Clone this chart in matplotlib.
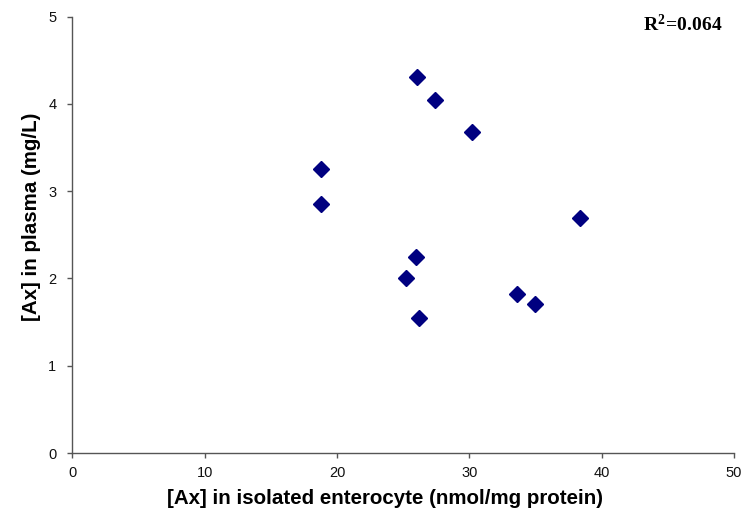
import matplotlib
matplotlib.use("Agg")
import matplotlib.pyplot as plt

# enterocyte concentration (nmol/mg protein) vs plasma concentration (mg/L)
x_enterocyte = [26.06, 27.39, 30.21, 18.81, 18.81, 38.35, 25.94, 25.18, 33.61, 34.95, 26.21]
y_plasma = [4.31, 4.04, 3.68, 3.25, 2.85, 2.69, 2.24, 2.00, 1.82, 1.71, 1.55]
x_ticks = [0, 10, 20, 30, 40, 50]
y_ticks = [0, 1, 2, 3, 4, 5]
r2_label = r"$\mathbf{R^2\!=\!0.064}$"

plt.rcParams["font.family"] = ["Liberation Sans", "DejaVu Sans"]
plt.rcParams["mathtext.fontset"] = "custom"
plt.rcParams["mathtext.bf"] = "Liberation Serif:bold"
plt.rcParams["mathtext.rm"] = "Liberation Serif:bold"

fig = plt.figure(figsize=(7.46, 5.16), dpi=100)
ax = fig.add_axes([0.097, 0.122, 0.887, 0.846])

ax.plot(x_enterocyte, y_plasma, linestyle="none", marker="D",
        markersize=8.5, color="#000080")

ax.set_xlim(0, 50)
ax.set_ylim(0, 5)
ax.set_xticks(x_ticks)
ax.set_yticks(y_ticks)
ax.tick_params(direction="out", length=3.5, width=1, color="#555555",
               labelcolor="#111111", labelsize=10.5)
ax.tick_params(axis="y", pad=8)
ax.tick_params(axis="x", pad=6)
for side in ("top", "right"):
    ax.spines[side].set_visible(False)
for side in ("left", "bottom"):
    ax.spines[side].set_color("#555555")
    ax.spines[side].set_linewidth(1)

ax.set_xlabel("[Ax] in isolated enterocyte (nmol/mg protein)", fontsize=14.8,
              fontweight="bold", va="center")
ax.xaxis.set_label_coords(0.4726, -0.103)
ax.set_ylabel("[Ax] in plasma (mg/L)", fontsize=14.8, fontweight="bold", va="center")
ax.yaxis.set_label_coords(-0.0624, 0.541)

ax.text(0.983, 0.9656, r2_label, transform=ax.transAxes,
        ha="right", va="baseline", fontsize=14)

fig.savefig("out.png", dpi=100)
